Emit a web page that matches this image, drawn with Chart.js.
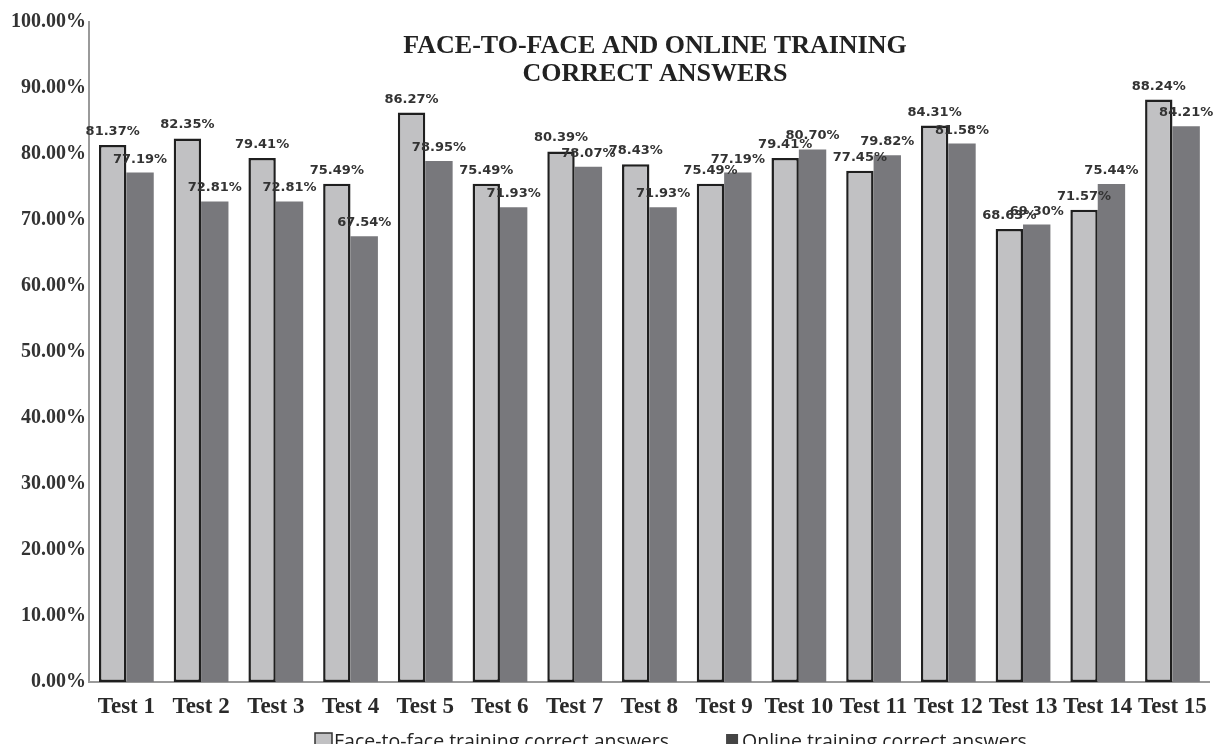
<!DOCTYPE html>
<html>
<head>
<meta charset="utf-8">
<script src="https://cdn.jsdelivr.net/npm/chart.js@4"></script>
<style>
  html, body { margin: 0; padding: 0; background: #fff; }
</style>
</head>
<body>
<canvas id="myChart" width="1218" height="744"></canvas>
<script>
// data
const categories = [
    "Test 1", "Test 2", "Test 3", "Test 4", "Test 5",
    "Test 6", "Test 7", "Test 8", "Test 9", "Test 10",
    "Test 11", "Test 12", "Test 13", "Test 14", "Test 15",
];
const faceToFace = [81.37, 82.35, 79.41, 75.49, 86.27, 75.49, 80.39, 78.43, 75.49, 79.41, 77.45, 84.31, 68.63, 71.57, 88.24];
const online = [77.19, 72.81, 72.81, 67.54, 78.95, 71.93, 78.07, 71.93, 77.19, 80.70, 79.82, 81.58, 69.30, 75.44, 84.21];
const seriesNames = ["Face-to-face training correct answers", "Online training correct answers"];
const titleLines = ["FACE-TO-FACE AND ONLINE TRAINING", "CORRECT ANSWERS"];

const serif = "'Liberation Serif', 'Times New Roman', serif";

// value labels above every bar
const valueLabels = {
    id: "valueLabels",
    afterDatasetsDraw(chart) {
        const ctx = chart.ctx;
        ctx.save();
        ctx.font = "bold 13px 'DejaVu Sans', sans-serif";
        ctx.fillStyle = "#333";
        ctx.textAlign = "center";
        ctx.textBaseline = "alphabetic";
        [1, 0].forEach((index) => {
            const values = chart.data.datasets[index].data;
            chart.getDatasetMeta(index).data.forEach((bar, i) => {
                ctx.fillText(values[i].toFixed(2) + "%", bar.x, bar.y - 10);
            });
        });
        ctx.restore();
    },
};

const chartTitle = {
    id: "chartTitle",
    afterDraw(chart) {
        const ctx = chart.ctx;
        ctx.save();
        ctx.font = "bold 26px " + serif;
        ctx.fillStyle = "#222";
        ctx.textAlign = "center";
        ctx.textBaseline = "middle";
        titleLines.forEach((line, i) => ctx.fillText(line, 655, 46 + i * 28));
        ctx.restore();
    },
};

const bottomLegend = {
    id: "bottomLegend",
    afterDraw(chart) {
        const ctx = chart.ctx;
        const y = 742;
        let x = 315;
        ctx.save();
        ctx.font = "19.5px 'Open Sans', sans-serif";
        ctx.textBaseline = "middle";
        chart.data.datasets.forEach((ds, i) => {
            if (i === 0) {
                ctx.fillStyle = ds.backgroundColor;
                ctx.fillRect(x, 733, 17, 17);
                ctx.strokeStyle = "#333";
                ctx.lineWidth = 1.5;
                ctx.strokeRect(x, 733, 17, 17);
                x += 19;
            } else {
                ctx.fillStyle = "#444";
                ctx.fillRect(x, 734, 12, 14);
                x += 16;
            }
            ctx.fillStyle = "#222";
            ctx.fillText(ds.label, x, y);
            x += ctx.measureText(ds.label).width + 57;
        });
        ctx.restore();
    },
};

const axisBorder = { display: true, color: "#9a9a9a", width: 2 };

let myChart = document.getElementById("myChart").getContext("2d");

let barChart = new Chart(myChart, {
    type: "bar",
    data: {
        labels: categories,
        datasets: [
            {
                label: seriesNames[0],
                data: faceToFace,
                backgroundColor: "#c1c1c3",
                borderColor: "#1f1f1f",
                borderWidth: 2.5,
                borderSkipped: false,
            },
            {
                label: seriesNames[1],
                data: online,
                backgroundColor: "#78787c",
                borderWidth: 0,
            },
        ],
    },
    options: {
        responsive: false,
        animation: false,
        categoryPercentage: 0.733,
        barPercentage: 1,
        layout: {
            padding: { top: 22, right: 4, bottom: 22, left: 0 },
        },
        scales: {
            x: {
                grid: { display: false, drawTicks: false },
                border: axisBorder,
                ticks: {
                    color: "#2a2a2a",
                    padding: 11,
                    maxRotation: 0,
                    autoSkip: false,
                    font: { family: serif, size: 23, weight: "bold" },
                },
                afterFit(scale) { scale.height = 40; },
            },
            y: {
                min: 0,
                max: 100,
                grid: { display: false, drawTicks: false },
                border: axisBorder,
                ticks: {
                    stepSize: 10,
                    color: "#333",
                    padding: 3,
                    font: { family: serif, size: 20, weight: "bold" },
                    callback: (v) => v.toFixed(2) + "%",
                },
                afterFit(scale) { scale.width = 89; },
            },
        },
        plugins: {
            legend: { display: false },
            tooltip: { enabled: false },
        },
    },
    plugins: [valueLabels, chartTitle, bottomLegend],
});
</script>
</body>
</html>
